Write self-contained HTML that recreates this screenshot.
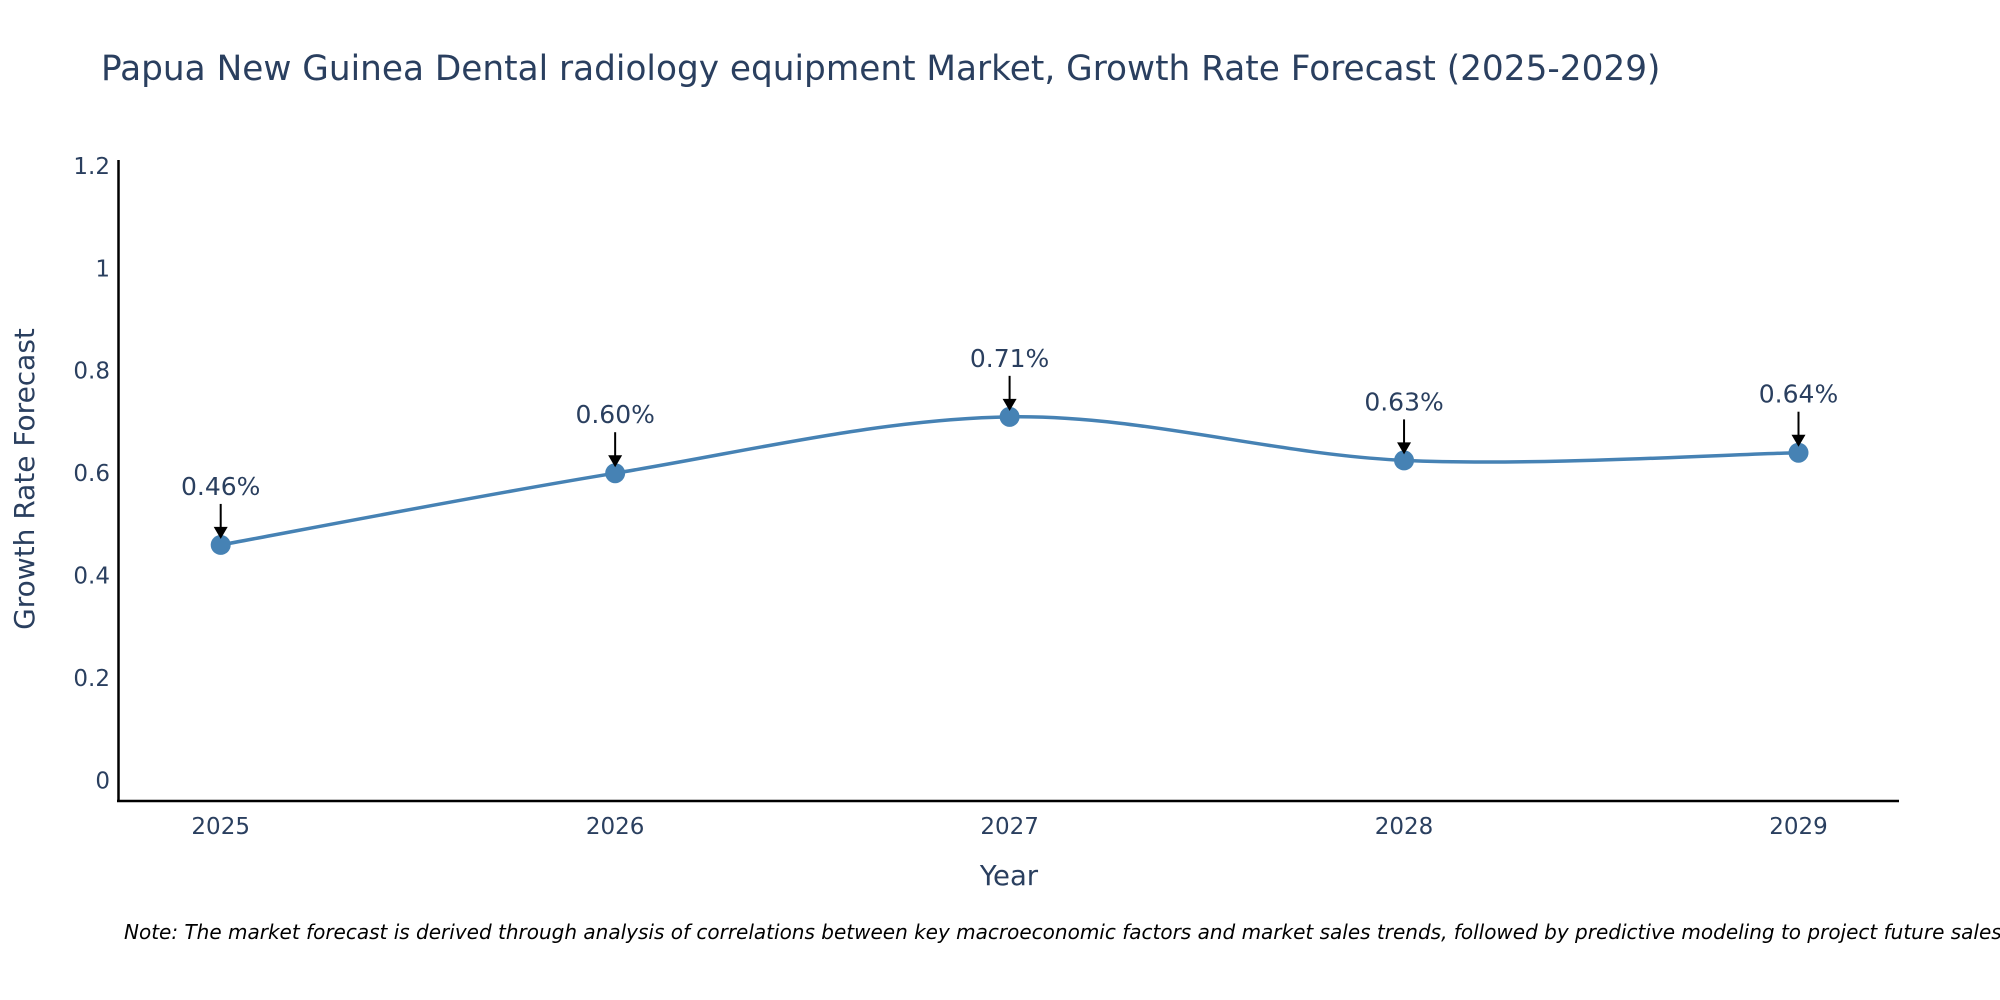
<!DOCTYPE html>
<html><head><meta charset="utf-8"><style>
body{margin:0;background:#fff;}
svg{display:block;font-family:"DejaVu Sans","Liberation Sans",sans-serif;}
</style></head><body>
<svg id="chart" width="2000" height="1000">
<text x="101" y="80" font-size="34.3" fill="#2a3f5f">Papua New Guinea Dental radiology equipment Market, Growth Rate Forecast (2025-2029)</text>
<g id="yticks"></g>
<g id="xticks"></g>
<line x1="118.5" y1="160" x2="118.5" y2="802" stroke="#000" stroke-width="2.5"/>
<line x1="117" y1="801" x2="1899" y2="801" stroke="#000" stroke-width="2.5"/>
<text transform="translate(34,479) rotate(-90)" text-anchor="middle" font-size="28" fill="#2a3f5f">Growth Rate Forecast</text>
<text x="1009" y="885" text-anchor="middle" font-size="27.5" fill="#2a3f5f">Year</text>
<path id="line" fill="none" stroke="#4682b4" stroke-width="3.5"/>
<g id="points"></g>
<g id="annots"></g>
<text x="124" y="939" font-size="20" font-style="italic" fill="#000">Note: The market forecast is derived through analysis of correlations between key macroeconomic factors and market sales trends, followed by predictive modeling to project future sales.</text>
</svg>
<script>
const categories = ["2025","2026","2027","2028","2029"];
const values = [0.46, 0.60, 0.71, 0.625, 0.64];
const labels = ["0.46%","0.60%","0.71%","0.63%","0.64%"];
const yTicks = [0,0.2,0.4,0.6,0.8,1,1.2];
const yTickLabels = ["0","0.2","0.4","0.6","0.8","1","1.2"];

const NS="http://www.w3.org/2000/svg";
const x = i => 220.7 + i*(1798.5-220.7)/(categories.length-1);
const y = v => 780.6 - v*(780.6-165.8)/1.2;
function mk(tag, attrs, parent){const e=document.createElementNS(NS,tag);for(const k in attrs)e.setAttribute(k,attrs[k]);parent.appendChild(e);return e;}

const yg=document.getElementById('yticks');
yTicks.forEach((t,i)=>{
  const e=mk('text',{x:110,y:y(t)+8,'text-anchor':'end','font-size':23,fill:'#2a3f5f'},yg);
  
  
  e.textContent=yTickLabels[i];
});
const xg=document.getElementById('xticks');
categories.forEach((c,i)=>{
  const e=mk('text',{x:x(i),y:834,'text-anchor':'middle','font-size':23,fill:'#2a3f5f'},xg);
  
  
  e.textContent=c;
});
const P=values.map((v,i)=>[x(i),y(v)]);
let d=`M${P[0][0]},${P[0][1]}`;
for(let i=0;i<P.length-1;i++){
  const p0=P[Math.max(0,i-1)],p1=P[i],p2=P[i+1],p3=P[Math.min(P.length-1,i+2)];
  const t=1/6;
  d+=` C${p1[0]+(p2[0]-p0[0])*t},${p1[1]+(p2[1]-p0[1])*t} ${p2[0]-(p3[0]-p1[0])*t},${p2[1]-(p3[1]-p1[1])*t} ${p2[0]},${p2[1]}`;
}
document.getElementById('line').setAttribute('d',d);
const pg=document.getElementById('points'), ag=document.getElementById('annots');
P.forEach((p,i)=>{
  const c=mk('circle',{cx:p[0],cy:p[1],r:10,fill:'#4682b4'},pg);
  
  
  mk('line',{x1:p[0],y1:p[1]-41,x2:p[0],y2:p[1]-16,stroke:'#000','stroke-width':2},ag);
  mk('polygon',{points:`${p[0]-7},${p[1]-18} ${p[0]+7},${p[1]-18} ${p[0]},${p[1]-6}`,fill:'#000'},ag);
  const t=mk('text',{x:p[0],y:p[1]-50,'text-anchor':'middle','font-size':25,fill:'#2a3f5f'},ag);
  
  
  t.textContent=labels[i];
});
</script>
</body></html>
